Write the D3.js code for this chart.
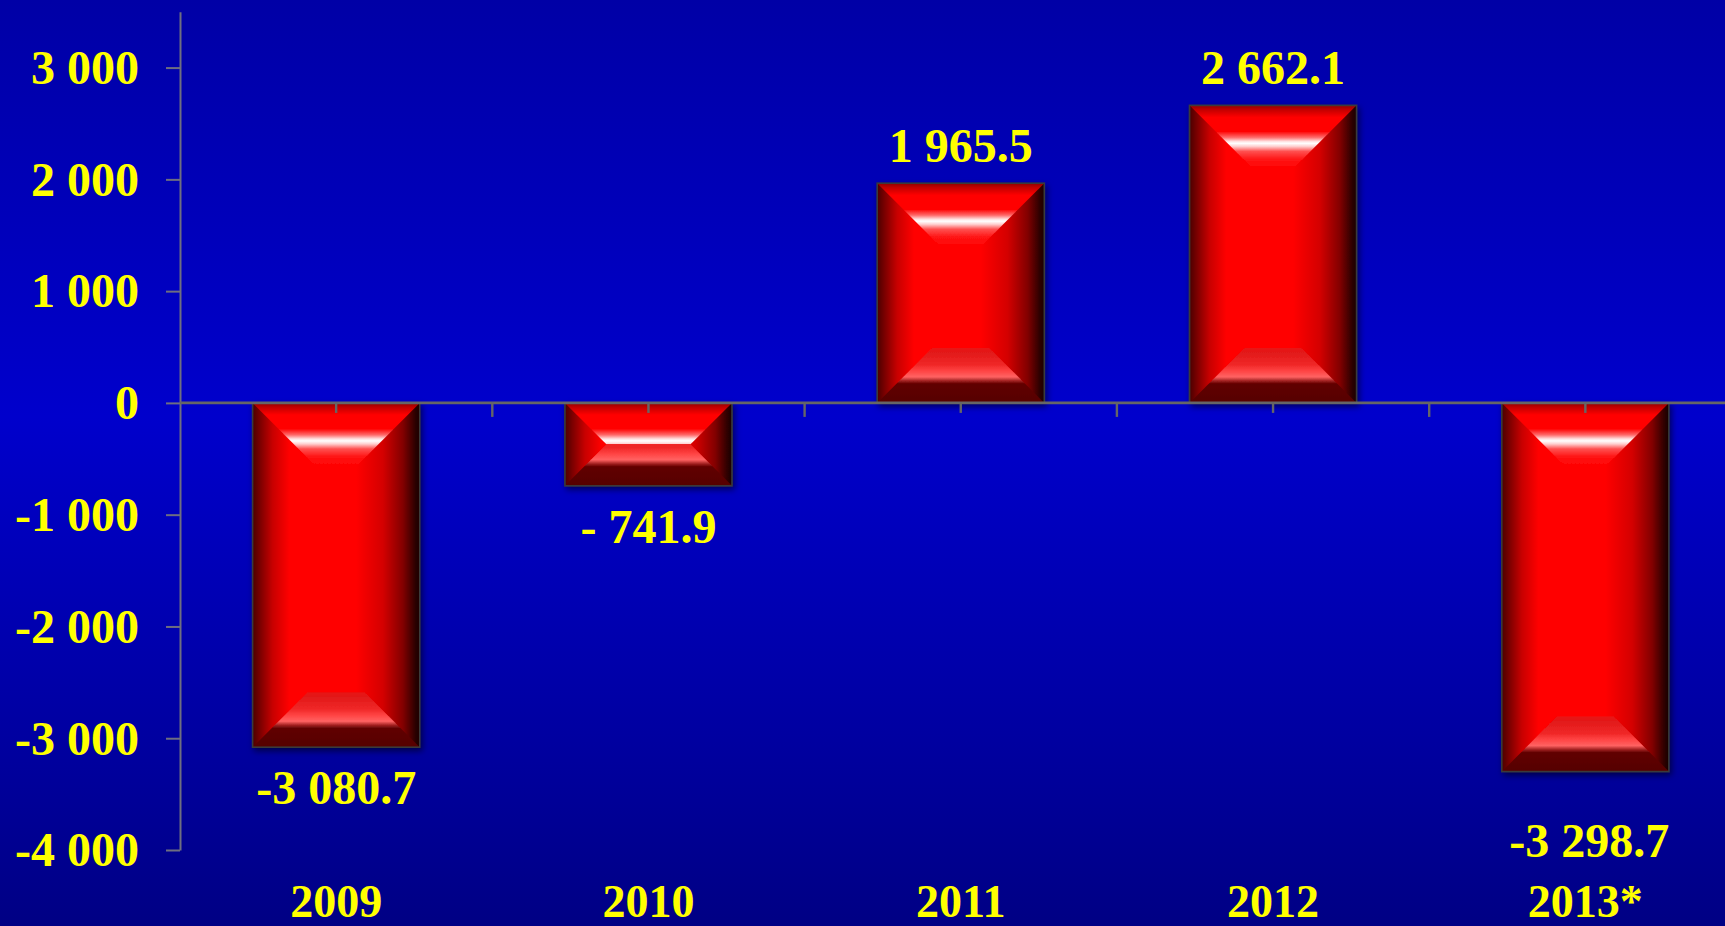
<!DOCTYPE html>
<html>
<head>
<meta charset="utf-8">
<script src="https://cdn.jsdelivr.net/npm/d3@7/dist/d3.min.js"></script>
<style>
  html, body { margin: 0; padding: 0; background: #0000b0; }
  svg { display: block; }
  text { font-family: "Liberation Serif", "Times New Roman", serif; font-weight: bold; }
</style>
</head>
<body>
<svg id="chart" width="1725" height="926"></svg>
<script>
// Balance by year (values in the units of the axis)
const years = ["2009", "2010", "2011", "2012", "2013*"];
const balance = [-3080.7, -741.9, 1965.5, 2662.1, -3298.7];
const valueLabels = ["-3 080.7", "- 741.9", "1 965.5", "2 662.1", "-3 298.7"];
const yTicks = [-4000, -3000, -2000, -1000, 0, 1000, 2000, 3000];

const W = 1725, H = 926;
const svg = d3.select("#chart");
const defs = svg.append("defs");

// Background: vertical blue gradient, brightest a little above the middle
const bg = defs.append("linearGradient").attr("id", "bg")
  .attr("x1", 0).attr("y1", 0).attr("x2", 0).attr("y2", 1);
[[0, "#0000a6"], [0.45, "#0000cc"], [0.8, "#0000a0"], [1, "#000084"]]
  .forEach(([o, c]) => bg.append("stop").attr("offset", o).attr("stop-color", c));
svg.append("rect").attr("width", W).attr("height", H).attr("fill", "url(#bg)");

// Scales
const y = d3.scaleLinear().domain([-4000, 3500]).range([850, 11.7]);
const x = d3.scaleBand().domain(years).range([180, 180 + 5 * 312.3]).padding(0);
const barW = x.bandwidth() * 0.535;

const fmt = d3.formatLocale({ decimal: ".", thousands: " ", grouping: [3], currency: ["", ""], minus: "-" }).format(",");

// Horizontal shading of the bar body (dark left edge, black right edge)
const side = defs.append("linearGradient").attr("id", "barSide")
  .attr("x1", 0).attr("y1", 0).attr("x2", 1).attr("y2", 0);
[[0, "#4a0000"], [0.05, "#800000"], [0.12, "#c80000"], [0.22, "#ff0000"], [0.62, "#ff0000"],
 [0.78, "#d40000"], [0.9, "#820000"], [0.97, "#300000"], [1, "#180000"]]
  .forEach(([o, c]) => side.append("stop").attr("offset", o).attr("stop-color", c));

// Bevel profiles, in pixels measured from the bar edge
const TOP_D = 64, BOT_D = 55;
const topProfile = [[0, "#900000"], [4, "#c00000"], [12, "#ff0000"], [26, "#ff0000"], [32, "#ff6a6a"],
  [36, "#ffe0e0"], [38, "#ffffff"], [41, "#ffd0d0"], [46, "#ff5050"], [54, "#ff1414"], [64, "#ff0000"]];
const botProfile = [[0, "#560000"], [19, "#600000"], [22, "#a02020"], [26, "#ff6262"], [32, "#ff4444"],
  [38, "#f02828"], [50, "#e21a1a"], [55, "#e81212"]];

// Soft drop shadow under each bar
const sh = defs.append("filter").attr("id", "shadow")
  .attr("x", "-10%").attr("y", "-10%").attr("width", "130%").attr("height", "130%");
sh.append("feDropShadow").attr("dx", 2).attr("dy", 3).attr("stdDeviation", 3)
  .attr("flood-color", "#000000").attr("flood-opacity", 0.55);

const data = years.map((yr, i) => ({ year: yr, value: balance[i], label: valueLabels[i], i }));

const bars = svg.append("g").attr("class", "bars");
data.forEach(d => {
  const cx = x(d.year) + x.bandwidth() / 2;
  const x0 = cx - barW / 2, x1 = cx + barW / 2;
  const yt = Math.min(y(d.value), y(0)), yb = Math.max(y(d.value), y(0));
  const h = yb - yt;
  const dT = Math.min(TOP_D, h / 2, barW / 2);
  const dB = Math.min(BOT_D, h / 2, barW / 2);

  const g = bars.append("g").attr("filter", "url(#shadow)");
  g.append("rect").attr("x", x0).attr("y", yt).attr("width", barW).attr("height", h)
    .attr("fill", "url(#barSide)");

  const tg = defs.append("linearGradient").attr("id", "top" + d.i)
    .attr("gradientUnits", "userSpaceOnUse")
    .attr("x1", 0).attr("x2", 0).attr("y1", yt).attr("y2", yt + TOP_D);
  topProfile.forEach(([p, c]) => tg.append("stop").attr("offset", p / TOP_D).attr("stop-color", c));
  g.append("polygon")
    .attr("points", [[x0, yt], [x1, yt], [x1 - dT, yt + dT], [x0 + dT, yt + dT]].join(" "))
    .attr("fill", `url(#top${d.i})`);

  const bgr = defs.append("linearGradient").attr("id", "bot" + d.i)
    .attr("gradientUnits", "userSpaceOnUse")
    .attr("x1", 0).attr("x2", 0).attr("y1", yb).attr("y2", yb - BOT_D);
  botProfile.forEach(([p, c]) => bgr.append("stop").attr("offset", p / BOT_D).attr("stop-color", c));
  g.append("polygon")
    .attr("points", [[x0, yb], [x1, yb], [x1 - dB, yb - dB], [x0 + dB, yb - dB]].join(" "))
    .attr("fill", `url(#bot${d.i})`);

  g.append("rect").attr("x", x0).attr("y", yt).attr("width", barW).attr("height", h)
    .attr("fill", "none").attr("stroke", "#3a3a3a").attr("stroke-width", 1.6);
});

// Y axis
const yAxis = svg.append("g").attr("transform", "translate(180,0)")
  .call(d3.axisLeft(y).tickValues(yTicks).tickSize(14).tickSizeOuter(0).tickPadding(27).tickFormat(fmt));
yAxis.select(".domain").attr("stroke", "#6e6e80").attr("stroke-width", 2);
yAxis.selectAll(".tick line").attr("stroke", "#6e6e80").attr("stroke-width", 2);
yAxis.selectAll(".tick text").attr("fill", "#ffff00").attr("font-size", 48)
  .attr("font-family", "Liberation Serif, Times New Roman, serif").attr("font-weight", "bold")
  .attr("dy", "0.33em");

// X axis along zero, with ticks at slot boundaries and centres
const xa = svg.append("g").attr("class", "xaxis");
const [r0, r1] = x.range();
xa.append("line").attr("x1", r0).attr("x2", r1).attr("y1", y(0)).attr("y2", y(0))
  .attr("stroke", "#666666").attr("stroke-width", 2.6);
d3.range(1, years.length + 1).forEach(k => {
  const bx = r0 + k * x.step();
  xa.append("line").attr("x1", bx).attr("x2", bx).attr("y1", y(0)).attr("y2", y(0) + 14)
    .attr("stroke", "#666666").attr("stroke-width", 2.4);
});
years.forEach(yr => {
  const cx = x(yr) + x.bandwidth() / 2;
  xa.append("line").attr("x1", cx).attr("x2", cx).attr("y1", y(0)).attr("y2", y(0) + 10)
    .attr("stroke", "#666666").attr("stroke-width", 2.4);
});

// Year labels
svg.append("g").selectAll("text").data(years).join("text")
  .attr("x", d => x(d) + x.bandwidth() / 2).attr("y", 917)
  .attr("text-anchor", "middle").attr("fill", "#ffff00").attr("font-size", 46)
  .text(d => d);

// Value labels: above positive bars, below negative bars
const labelNudge = { "2013*": { dx: 4, dy: 28 } };
svg.append("g").selectAll("text").data(data).join("text")
  .attr("x", d => x(d.year) + x.bandwidth() / 2 + ((labelNudge[d.year] || {}).dx || 0))
  .attr("y", d => (d.value >= 0 ? y(d.value) - 21 : y(d.value) + 57) + ((labelNudge[d.year] || {}).dy || 0))
  .attr("text-anchor", "middle").attr("fill", "#ffff00").attr("font-size", 48)
  .text(d => d.label);
</script>
</body>
</html>
